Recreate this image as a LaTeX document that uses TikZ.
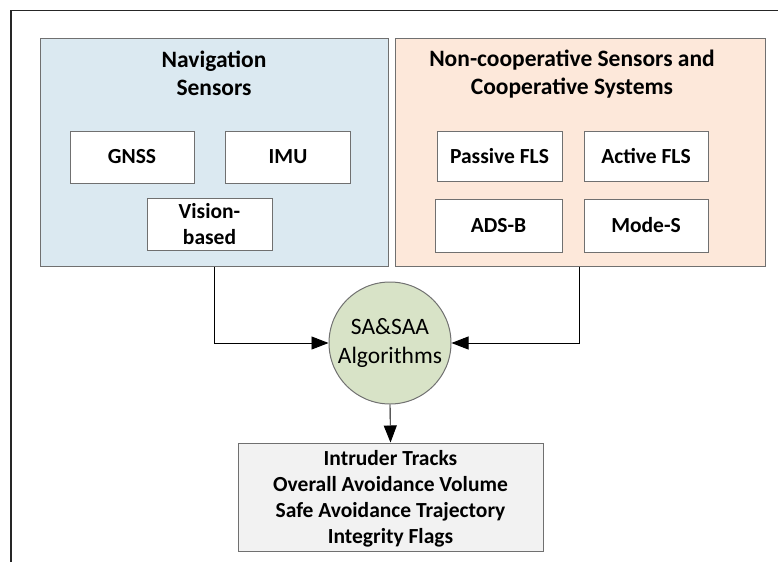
\documentclass[tikz,border=0pt]{standalone}
\usepackage{fontspec}
\setmainfont{Carlito}
\usetikzlibrary{arrows.meta}
\definecolor{navfill}{HTML}{DBE9F1}
\definecolor{senfill}{HTML}{FDE8DA}
\definecolor{algfill}{HTML}{D8E3C7}
\definecolor{outfill}{HTML}{F2F2F2}
\definecolor{edgegray}{HTML}{707070}
\tikzset{
  group/.style={draw=edgegray, line width=1pt, rectangle, inner sep=0pt},
  unit/.style={draw=edgegray, fill=white, line width=1pt, rectangle, inner sep=0pt,
    font=\fontsize{21.5}{26}\selectfont\bfseries, align=center},
  heading/.style={font=\fontsize{23.5}{28}\selectfont\bfseries, align=center, inner sep=0pt},
  link/.style={draw=black, line width=0.9pt, -{Triangle[length=17pt,width=13pt]}},
}
\begin{document}
\begin{tikzpicture}[x=1pt,y=-1pt]
  \useasboundingbox (0,0) rectangle (778,562);
  % open frame: left and top edges only
  \draw[line width=1.8pt, draw=black!85] (11,562) -- (11,10.5) -- (778,10.5);

  % navigation sensors group
  \node[group, fill=navfill, minimum width=348, minimum height=228] (nav) at (214,152) {};
  \node[heading] (navtitle) at (214,73) {Navigation\\Sensors};
  \node[unit, minimum width=124, minimum height=52] (gnss) at (132,157) {GNSS};
  \node[unit, minimum width=125, minimum height=52] (imu) at (288,157) {IMU};
  \node[unit, minimum width=125, minimum height=52] (vision) at (209.5,224) {Vision-\\based};

  % surveillance sensors group
  \node[group, fill=senfill, minimum width=370, minimum height=228] (sen) at (580,152) {};
  \node[heading] (sentitle) at (572,74) {Non-cooperative Sensors and\\Cooperative Systems};
  \node[unit, minimum width=125, minimum height=50] (pfls) at (499.5,156) {Passive FLS};
  \node[unit, minimum width=124, minimum height=50] (afls) at (646,156) {Active FLS};
  \node[unit, minimum width=127, minimum height=53] (adsb) at (498.5,225.5) {ADS-B};
  \node[unit, minimum width=124, minimum height=53] (modes) at (646,225.5) {Mode-S};

  % fusion algorithms
  \node[circle, draw=edgegray, fill=algfill, line width=1pt, minimum size=122, inner sep=0pt,
        font=\fontsize{23.5}{29}\selectfont, align=center] (alg) at (390,343) {SA\&SAA\\Algorithms};

  % outputs
  \node[group, fill=outfill, minimum width=305, minimum height=108,
        font=\fontsize{21.5}{26}\selectfont\bfseries, align=center] (out) at (390.5,497)
        {\strut Intruder Tracks\\Overall Avoidance Volume\\Safe Avoidance Trajectory\\Integrity Flags};

  % connectors
  \draw[link] (nav.south) |- (alg.west);
  \draw[link] ([xshift=-1pt]sen.south) |- (alg.east);
  \draw[link] (alg.south) -- (out.north);
\end{tikzpicture}
\end{document}
